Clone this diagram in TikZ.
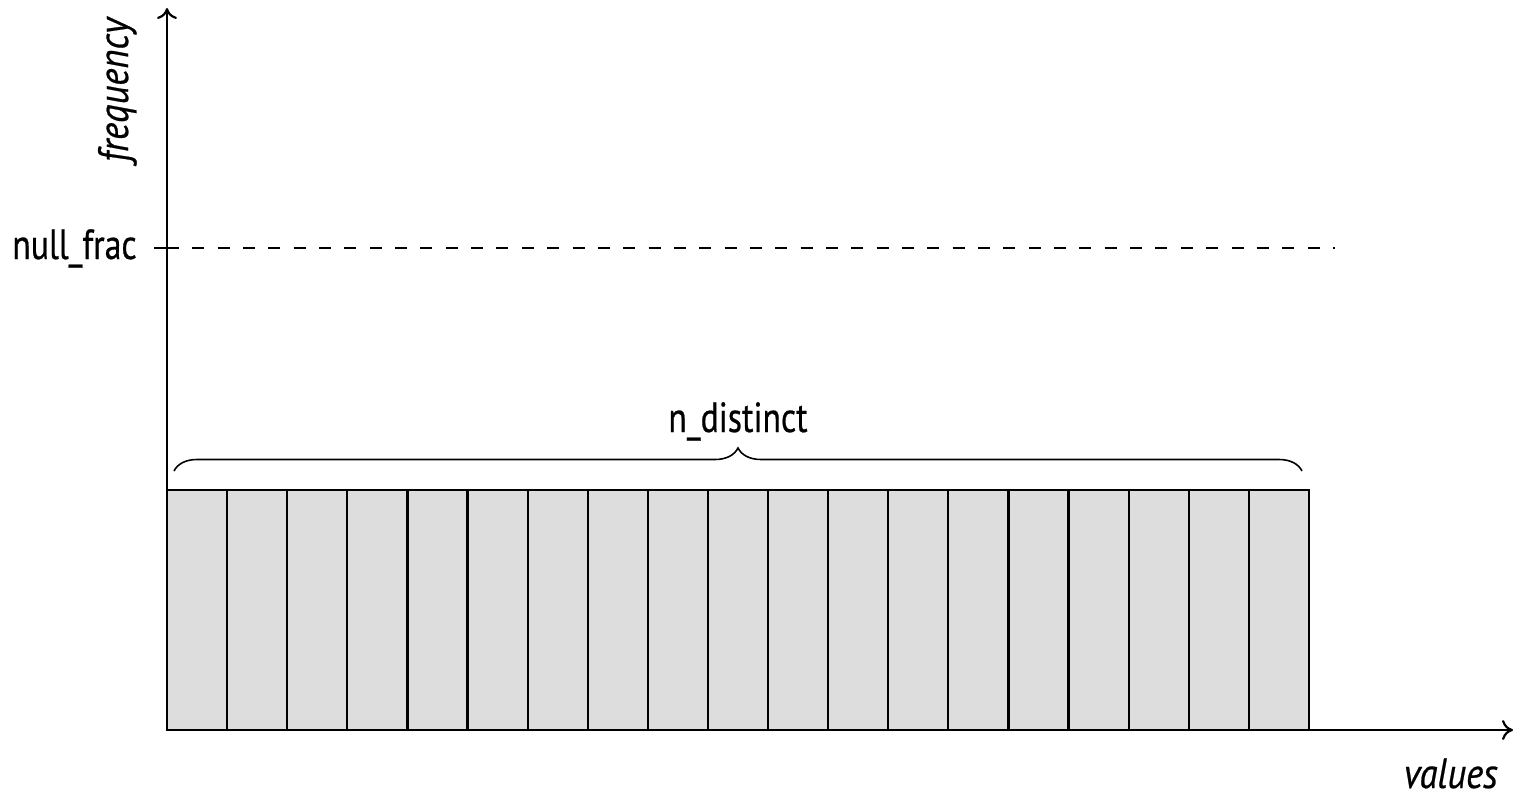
\documentclass[tikz,border=0pt]{standalone}
\usepackage{fontspec}
\setmainfont{PT Sans}[FakeStretch=0.8, FakeBold=0.5, ItalicFeatures={FakeStretch=0.87}]
\usetikzlibrary{arrows.meta,decorations.pathreplacing}
\definecolor{barfill}{RGB}{221,221,221}
\tikzset{
  axis/.style={line width=1.25pt, -{To[length=2.2mm,width=4mm]}},
  bar/.style={line width=1.25pt, fill=barfill, draw=black},
  nullline/.style={line width=1.2pt, dash pattern=on 0.24cm off 0.267cm},
  lbl/.style={inner sep=0pt, font=\fontsize{24}{28}\selectfont},
}
\begin{document}
\begin{tikzpicture}[x=0.02cm,y=-0.02cm]
  \useasboundingbox (0,0) rectangle (1530,804);
  % bars
  \foreach \i in {0,...,18}
    \draw[bar] (167+\i*60.1,730) rectangle ++(60.1,-240);
  % axes
  \coordinate (O) at (167,730);
  \coordinate (ytop) at (167,8);
  \coordinate (xend) at (1513,730);
  \draw[axis] (O) -- (ytop);
  \draw[axis] (O) -- (xend);
  \node[lbl, rotate=90, anchor=base] (freq) at (128,90) {\itshape frequency};
  \node[lbl, anchor=base east] (vals) at (1498,788) {\itshape values};
  % null_frac
  \coordinate (tick) at (154,248);
  \coordinate (nf) at (167,248);
  \coordinate (nfend) at (1335,248);
  \draw[line width=1.2pt] (tick) -- (nf);
  \draw[nullline] (nf) -- (nfend);
  \node[lbl, anchor=base east] (nflabel) at (137,259) {null\_frac};
  % n_distinct
  \coordinate (bl) at (174,471);
  \coordinate (br) at (1302,471);
  \draw[line width=0.9pt, decorate, decoration={brace, amplitude=0.46cm}] (bl) -- (br);
  \node[lbl, anchor=base] (ndlabel) at (738,432) {n\_distinct};
\end{tikzpicture}
\end{document}
